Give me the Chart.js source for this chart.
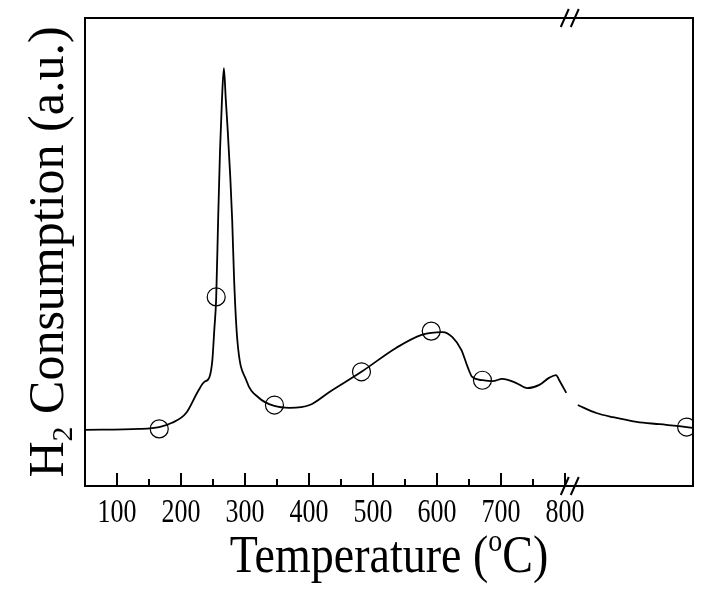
<!DOCTYPE html>
<html>
<head>
<meta charset="utf-8">
<script src="https://cdn.jsdelivr.net/npm/chart.js@4.4.0/dist/chart.umd.min.js"></script>
<style>
    html, body { margin: 0; padding: 0; background: #fff; }
    #wrap { width: 715px; height: 594px; }
</style>
</head>
<body>
<div id="wrap"><canvas id="myChart" width="715" height="594"></canvas></div>
<script>
// H2-TPR profile (temperature in C, signal in a.u.)
const temps = [50, 135, 166, 186, 208, 226, 236, 244, 249, 252, 255, 258, 261, 264, 267, 270, 273, 277, 280, 283, 288, 302, 322, 346, 370, 401, 432, 482, 536, 576, 609, 624, 638, 648, 655, 671, 687, 702, 724, 741, 760, 775, 786, 791, 802,
    808,
    820, 849, 875, 912, 948, 990, 1000];
const signal = [12.0, 12.2, 12.6, 13.5, 15.6, 20.1, 22.2, 23.1, 26.9, 33.3, 40.2, 56.8, 71.8, 82.5, 89.3, 82.5, 76.0, 66.0, 56.8, 44.0, 31.2, 22.6, 18.8, 17.1, 16.7, 17.3, 20.1, 24.4, 29.5, 32.3, 32.9, 31.8, 29.1, 25.4, 23.3, 22.6, 22.4, 22.9, 22.0, 20.9, 21.6, 23.1, 23.7, 22.6, 19.9,
    null,
    17.3, 15.6, 14.7, 13.7, 13.2, 12.6, 12.4];

// open circle symbols along the curve
const markerTemps = [166, 255, 346, 482, 591, 671, 990];
const markerSignal = [12.2, 40.4, 17.3, 24.4, 33.1, 22.6, 12.6];

const majorTicks = [100, 200, 300, 400, 500, 600, 700, 800];
const minorTicks = [150, 250, 350, 450, 550, 650, 750];
const breakAt = 809;

const titleX = ['Temperature (', 'o', 'C)'];
const titleY = ['H', '2', ' Consumption (a.u.)'];

const serif = '"Liberation Serif", "Times New Roman", serif';

const frame = {
    id: 'frame',
    afterDraw: (chart) => {
        const { ctx, chartArea } = chart;
        const xs = chart.scales.x;
        const left = chartArea.left, right = chartArea.right;
        const top = chartArea.top, bottom = chartArea.bottom;

        ctx.save();
        ctx.strokeStyle = '#000';
        ctx.fillStyle = '#000';
        ctx.lineWidth = 2;
        ctx.strokeRect(left, top, right - left, bottom - top);

        // inward ticks
        ctx.beginPath();
        majorTicks.forEach(v => {
            const x = Math.round(xs.getPixelForValue(v));
            ctx.moveTo(x, bottom);
            ctx.lineTo(x, bottom - 13);
        });
        minorTicks.forEach(v => {
            const x = Math.round(xs.getPixelForValue(v));
            ctx.moveTo(x, bottom);
            ctx.lineTo(x, bottom - 7);
        });
        ctx.stroke();

        // tick labels
        ctx.font = '26px ' + serif;
        ctx.textAlign = 'center';
        ctx.textBaseline = 'alphabetic';
        majorTicks.forEach(v => {
            const x = xs.getPixelForValue(v);
            ctx.save();
            ctx.translate(x, bottom + 36);
            ctx.scale(1, 1.3);
            ctx.fillText(String(v), 0, 0);
            ctx.restore();
        });

        // axis break marks
        const bx = xs.getPixelForValue(breakAt);
        ctx.lineWidth = 2;
        [top, bottom].forEach(y => {
            ctx.beginPath();
            ctx.moveTo(bx - 10, y + 9);
            ctx.lineTo(bx - 2, y - 9);
            ctx.moveTo(bx, y + 9);
            ctx.lineTo(bx + 8, y - 9);
            ctx.stroke();
        });

        // x title with superscript
        ctx.textAlign = 'left';
        const big = '46px ' + serif, small = '28px ' + serif;
        ctx.font = big;
        const w0 = ctx.measureText(titleX[0]).width;
        const w2 = ctx.measureText(titleX[2]).width;
        ctx.font = small;
        const w1 = ctx.measureText(titleX[1]).width;
        let tx = (left + right) / 2 - (w0 + w1 + w2) / 2;
        ctx.save();
        ctx.translate(0, 572);
        ctx.scale(1, 1.15);
        ctx.font = big;
        ctx.fillText(titleX[0], tx, 0);
        ctx.font = small;
        ctx.fillText(titleX[1], tx + w0, -18);
        ctx.font = big;
        ctx.fillText(titleX[2], tx + w0 + w1, 0);
        ctx.restore();

        // y title with subscript
        const bigY = '50px ' + serif, smallY = '30px ' + serif;
        ctx.font = bigY;
        const h0 = ctx.measureText(titleY[0]).width;
        const h2 = ctx.measureText(titleY[2]).width;
        ctx.font = smallY;
        const h1 = ctx.measureText(titleY[1]).width;
        ctx.save();
        ctx.translate(63, (top + bottom) / 2);
        ctx.rotate(-Math.PI / 2);
        let ty = -(h0 + h1 + h2) / 2;
        ctx.font = bigY;
        ctx.fillText(titleY[0], ty, 0);
        ctx.font = smallY;
        ctx.fillText(titleY[1], ty + h0, 9);
        ctx.font = bigY;
        ctx.fillText(titleY[2], ty + h0 + h1, 0);
        ctx.restore();

        ctx.restore();
    }
};

function createChart() {
    const ctx = document.getElementById('myChart').getContext('2d');

    return new Chart(ctx, {
        type: 'line',
        data: {
            datasets: [
                {
                    data: temps.map((t, i) => ({ x: t, y: signal[i] })),
                    borderColor: '#000',
                    borderWidth: 1.8,
                    pointRadius: 0,
                    tension: 0.35,
                    cubicInterpolationMode: 'monotone',
                    spanGaps: false,
                    fill: false
                },
                {
                    data: markerTemps.map((t, i) => ({ x: t, y: markerSignal[i] })),
                    showLine: false,
                    pointStyle: 'circle',
                    pointRadius: 9,
                    borderColor: '#000',
                    borderWidth: 1.2,
                    backgroundColor: 'rgba(0,0,0,0)'
                }
            ]
        },
        options: {
            responsive: false,
            animation: false,
            layout: { padding: { left: 85, right: 22, top: 18, bottom: 108 } },
            scales: {
                x: { type: 'linear', min: 50, max: 1000, display: false },
                y: { min: 0, max: 100, display: false }
            },
            plugins: {
                legend: { display: false },
                tooltip: { enabled: false }
            }
        },
        plugins: [frame]
    });
}

createChart();
</script>
</body>
</html>
